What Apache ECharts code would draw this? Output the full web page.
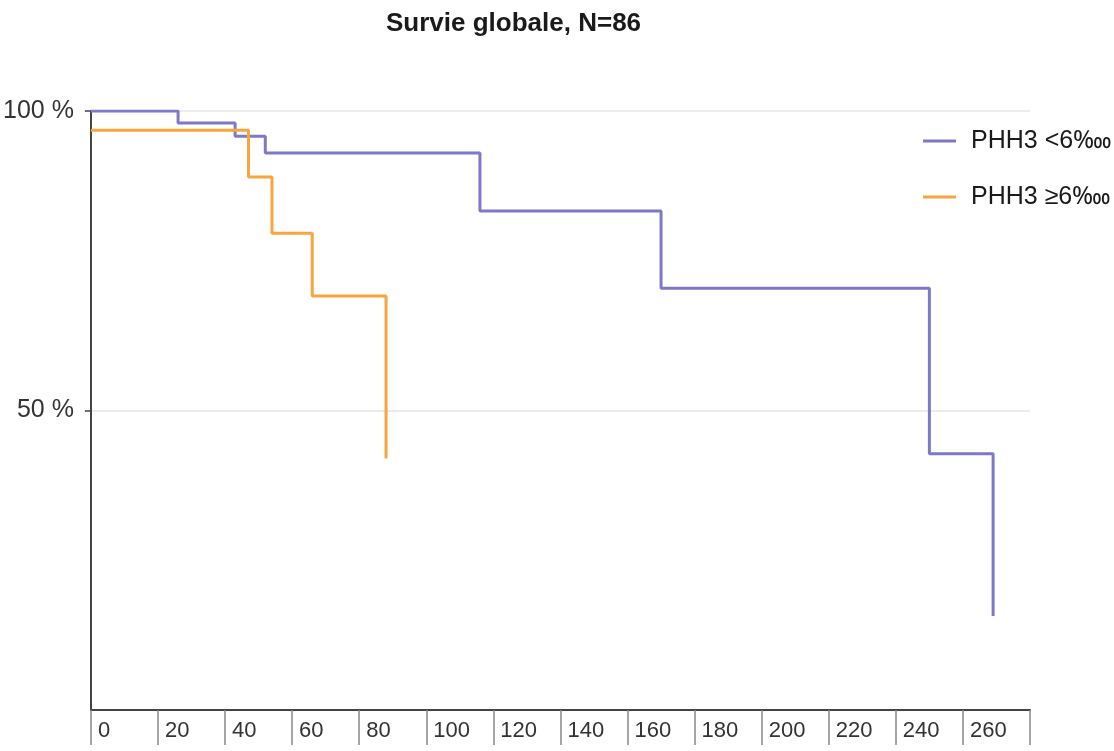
<!DOCTYPE html>
<html>
<head>
<meta charset="utf-8">
<script src="https://cdn.jsdelivr.net/npm/echarts@6/dist/echarts.min.js"></script>
<style>html,body{margin:0;padding:0;background:#fff;overflow:hidden}#c{width:1114px;height:751px}</style>
</head>
<body>
<div id="c"></div>
<script>
const chartTitle = 'Survie globale, N=86';
const seriesNames = ['PHH3 <6\u2031', 'PHH3 \u22656\u2031'];
// Kaplan-Meier points [months, survival %]
const lowPHH3 = [[0,100],[26,98],[43,95.8],[52,93],[116,83.3],[170,70.4],[250,42.8],[269,15.7]];
const highPHH3 = [[0,96.8],[47,89],[54,79.6],[66,69.1],[88,42]];
const xTicks = {min:0, max:280, interval:20};
const yTicks = {min:0, max:100, interval:50};

const font = '"Liberation Sans", Arial, sans-serif';
const chart = echarts.init(document.getElementById('c'), null, {renderer:'canvas'});
chart.setOption({
  animation:false,
  backgroundColor:'#fff',
  title:{text:chartTitle, left:381, top:6,
    textStyle:{fontFamily:font, fontWeight:'bold', fontSize:26, color:'#1a1a1a'}},
  legend:{orient:'vertical', left:918, top:122, itemGap:28, itemWidth:33, itemHeight:3,
    icon:'rect', data:seriesNames,
    textStyle:{fontFamily:font, fontSize:25, color:'#1a1a1a', lineHeight:28, padding:[0,0,0,10]}},
  grid:{left:89, right:84, top:111, bottom:41, containLabel:false},
  xAxis:{type:'value', min:xTicks.min, max:xTicks.max, interval:xTicks.interval,
    axisLine:{show:true, lineStyle:{color:'#444', width:2}},
    axisTick:{show:true, length:35, lineStyle:{color:'#888', width:1.5}},
    splitLine:{show:false},
    axisLabel:{formatter:v=>(v===xTicks.max?'':String(v)), align:'left', margin:10, padding:[0,0,0,7],
      fontFamily:font, fontSize:22, color:'#333', verticalAlign:'top'}},
  yAxis:{type:'value', min:yTicks.min, max:yTicks.max, interval:yTicks.interval,
    axisLine:{show:true, lineStyle:{color:'#444', width:2}},
    axisTick:{show:true, length:6, lineStyle:{color:'#444', width:1.5}},
    splitLine:{show:true, lineStyle:{color:'#e6e6e6', width:1.5}},
    axisLabel:{showMinLabel:false, formatter:v=>v+' %', margin:17,
      fontFamily:font, fontSize:25, color:'#333', padding:[10,0,0,0]}},
  series:[
    {name:seriesNames[0], type:'line', step:'end', data:lowPHH3, showSymbol:false,
      color:'#7d78c8', lineStyle:{width:3, color:'#7d78c8'}},
    {name:seriesNames[1], type:'line', step:'end', data:highPHH3, showSymbol:false,
      color:'#f8a53c', lineStyle:{width:3, color:'#f8a53c'}}
  ]
});
</script>
</body>
</html>
